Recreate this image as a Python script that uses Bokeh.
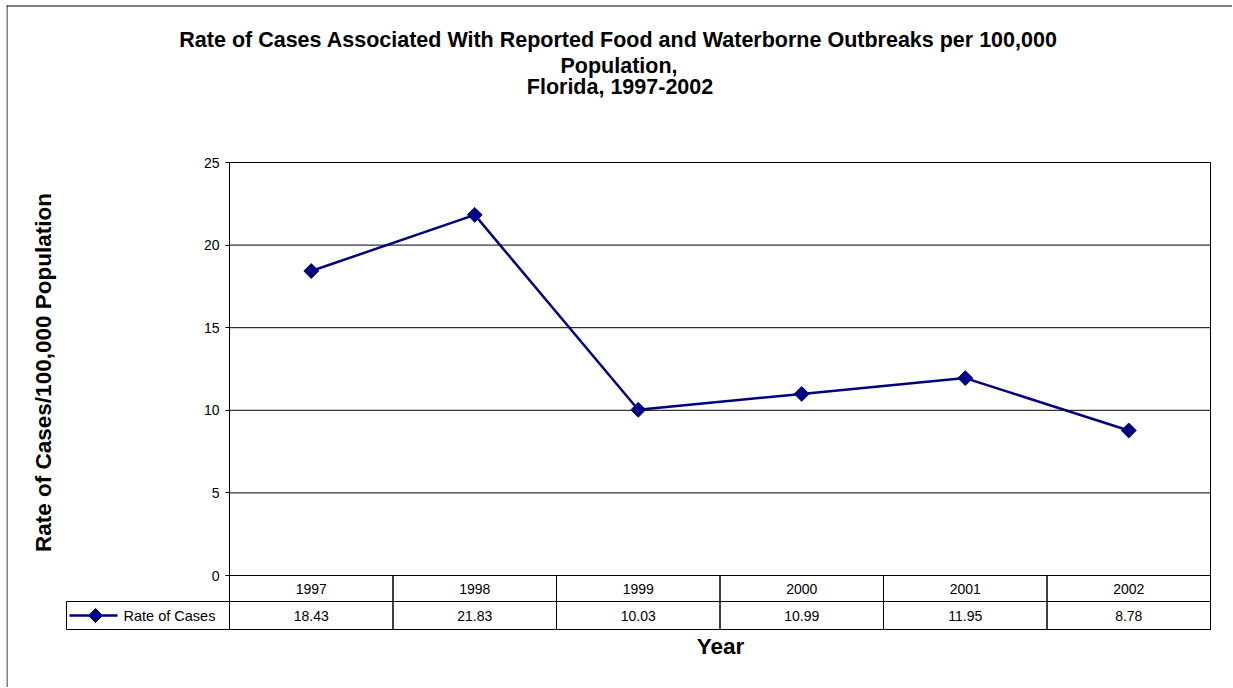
import math
from bokeh.plotting import figure
from bokeh.models import Range1d, FixedTicker, Label
from bokeh.core.properties import value
from bokeh.embed import file_html
from bokeh.resources import INLINE

# ---- data ----
years = ["1997", "1998", "1999", "2000", "2001", "2002"]
rates = [18.43, 21.83, 10.03, 10.99, 11.95, 8.78]
y_ticks = [0, 5, 10, 15, 20, 25]
title_lines = [
    "Rate of Cases Associated With Reported Food and Waterborne Outbreaks per 100,000",
    "Population,",
    "Florida, 1997-2002",
]
y_title = "Rate of Cases/100,000 Population"
x_title = "Year"
series_name = "Rate of Cases"

# ---- layout (page pixels) ----
W, H = 1232, 687
FRAME_L = 6                             # frame starts at the chart border
PL, PR, PT, PB = 229, 1210, 162, 629    # plot area incl. data table
ZERO = 575                              # y pixel of value 0
ROW1 = 601                              # separator between table rows
LEG_L = 66                              # left edge of the legend cell
Y_MAX = 25
ppu = (ZERO - PT) / Y_MAX
y_lo = -(PB - ZERO) / ppu
ncol = len(years)
colw = (PR - PL) / ncol


def dx(px):
    return (px - PL) / colw


def dy(py):
    return (ZERO - py) / ppu


FONT = "Liberation Sans"
NAVY = "#000080"

p = figure(width=W, height=H, output_backend="svg", toolbar_location=None,
           x_axis_location=None, y_axis_location="left",
           x_range=Range1d(dx(FRAME_L), dx(W)), y_range=Range1d(dy(H), dy(0)),
           min_border_left=FRAME_L, min_border_right=0,
           min_border_top=0, min_border_bottom=0,
           background_fill_color="white", border_fill_color="white")
p.outline_line_color = None
p.grid.visible = False

# outer chart border (only its left/top edges fall inside the window): 1px strips
p.quad(left=[dx(6), dx(6)], right=[dx(7), dx(W + 60)], top=[dy(5), dy(5)],
       bottom=[dy(H + 60), dy(6)], fill_color="black", line_color=None)

# plot area + table outline and horizontal gridlines
p.quad(left=[0], right=[ncol], bottom=[y_lo], top=[Y_MAX],
       fill_color="white", line_color="black", line_width=1)
p.segment(x0=[0] * len(y_ticks), x1=[ncol] * len(y_ticks), y0=y_ticks, y1=y_ticks,
          line_color="black", line_width=1)

# y axis drawn at the plot-area edge (ticks + rule); tick labels as text
ax = p.yaxis[0]
ax.fixed_location = 0
ax.bounds = (y_lo, Y_MAX)
ax.ticker = FixedTicker(ticks=y_ticks)
ax.axis_line_color = "black"
ax.major_tick_line_color = "black"
ax.major_tick_out = 4
ax.major_tick_in = 0
ax.minor_tick_out = 0
ax.minor_tick_in = 0
ax.major_label_standoff = 0
ax.major_label_text_font_size = "0px"
ax.major_label_text_color = None
p.text(x=[dx(219)] * len(y_ticks), y=y_ticks, text=[str(t) for t in y_ticks],
       text_align="right", text_baseline="middle",
       text_font=value(FONT), text_font_size="14px", text_color="black")

# ---- data table ----
xs = [i + 0.5 for i in range(ncol)]
r1_y = dy((ZERO + ROW1) / 2)
r1_h = (ROW1 - ZERO) / ppu
r2_y = dy((ROW1 + PB) / 2)
r2_h = (PB - ROW1) / ppu
p.rect(x=xs, y=[r1_y] * ncol, width=1, height=r1_h, fill_color=None, line_color="black", line_width=1)
p.rect(x=xs, y=[r2_y] * ncol, width=1, height=r2_h, fill_color=None, line_color="black", line_width=1)
p.text(x=xs, y=[r1_y] * ncol, text=years, text_align="center", text_baseline="middle",
       text_font=value(FONT), text_font_size="14px", text_color="black")
p.text(x=xs, y=[r2_y] * ncol, text=[f"{v:.2f}" for v in rates], text_align="center",
       text_baseline="middle", text_font=value(FONT), text_font_size="14px", text_color="black")

# legend cell of the data table
leg_w = (PL - LEG_L) / colw
p.rect(x=[-leg_w / 2], y=[r2_y], width=leg_w, height=r2_h, fill_color="white",
       line_color="black", line_width=1)
p.segment(x0=[dx(LEG_L + 3)], x1=[dx(LEG_L + 51)], y0=[r2_y], y1=[r2_y],
          line_color=NAVY, line_width=2.5)
p.scatter(x=[dx(LEG_L + 29)], y=[r2_y], marker="square", angle=math.pi / 4, size=10,
          fill_color=NAVY, line_color=NAVY)
p.text(x=[dx(LEG_L + 57)], y=[r2_y], text=[series_name], text_align="left", text_baseline="middle",
       text_font=value(FONT), text_font_size="14.5px", text_color="black")

# ---- series ----
p.line(xs, rates, line_color=NAVY, line_width=2.5)
p.scatter(xs, rates, marker="square", angle=math.pi / 4, size=10.5,
          fill_color=NAVY, line_color=NAVY)

# ---- titles ----
centers = [(618, 39), (618.5, 65), (619.5, 86.5)]
for t, (cx, cy) in zip(title_lines, centers):
    p.add_layout(Label(x=dx(cx), y=dy(cy), text=t, text_align="center", text_baseline="middle",
                       text_font=FONT, text_font_size="21.5px", text_font_style="bold",
                       text_color="black"))

p.add_layout(Label(x=dx(42.5), y=dy(372), text=y_title, angle=math.pi / 2,
                   text_align="center", text_baseline="middle",
                   text_font=FONT, text_font_size="22.5px", text_font_style="bold", text_color="black"))
p.add_layout(Label(x=dx(720), y=dy(646), text=x_title,
                   text_align="center", text_baseline="middle",
                   text_font=FONT, text_font_size="22.5px", text_font_style="bold", text_color="black"))

open("out.html", "w").write(file_html(p, INLINE))
